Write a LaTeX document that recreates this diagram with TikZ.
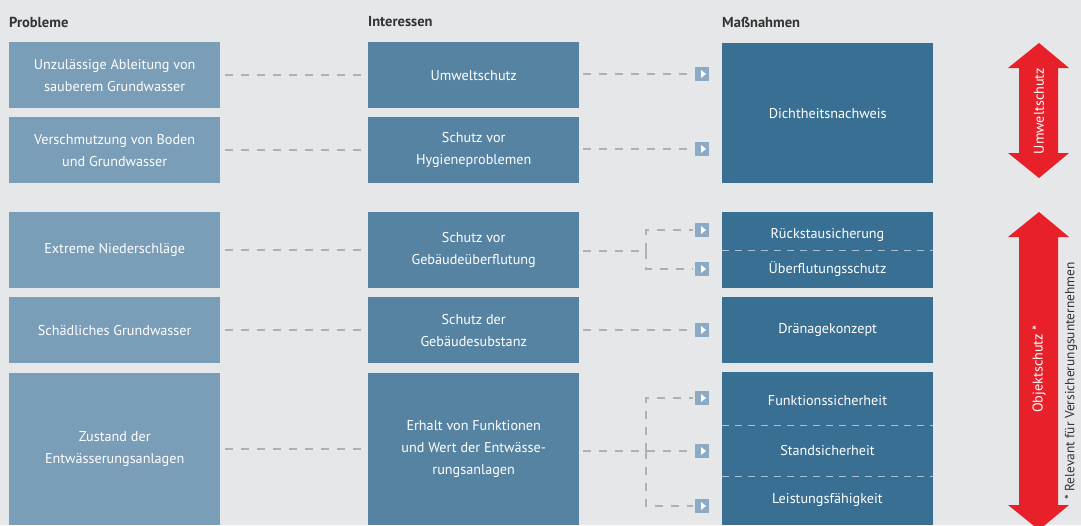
\documentclass[tikz,border=0pt]{standalone}
\usepackage{fontspec}
\setmainfont{PT Sans}
\usetikzlibrary{calc}
\begin{document}
\begin{tikzpicture}[x=1pt,y=-1pt,
  box/.style={anchor=north west, inner sep=0pt, text=white, align=center, font=\fontsize{14.2}{22}\selectfont, minimum width=211pt},
  prob/.style={box, fill=probcol},
  inter/.style={box, fill=intcol},
  meas/.style={box, fill=meascol},
  mtext/.style={text=white, font=\fontsize{14.2}{22}\selectfont},
  head/.style={anchor=west, inner sep=0pt, font=\fontsize{14.5}{16}\bfseries\selectfont, text=headcol},
  conn/.style={draw=dashcol, line width=1.6pt, dash pattern=on 8pt off 8pt},
  sep/.style={draw=sepcol, line width=1pt, dash pattern=on 7pt off 6pt},
  sq/.style={fill=sqcol, minimum size=14pt, inner sep=0pt},
  rtext/.style={rotate=90, font=\fontsize{14.2}{16}\selectfont},
]
\definecolor{bgcol}{HTML}{E6E7E9}
\definecolor{probcol}{HTML}{7A9DB8}
\definecolor{intcol}{HTML}{5783A3}
\definecolor{meascol}{HTML}{386F93}
\definecolor{sqcol}{HTML}{8DAAC4}
\definecolor{dashcol}{HTML}{B0B1B3}
\definecolor{sepcol}{HTML}{A9C0D2}
\definecolor{headcol}{HTML}{333333}
\definecolor{redcol}{HTML}{E8202A}

\fill[bgcol] (0,0) rectangle (1081,525);
\useasboundingbox (0,0) rectangle (1081,525);

% headers
\node[head] (h1) at (9,22) {Probleme};
\node[head] (h2) at (368,22) {Interessen};
\node[head] (h3) at (722,22) {Maßnahmen};

% problems
\node[prob, minimum height=66pt] (p1) at (9,42) {Unzulässige Ableitung von\\sauberem Grundwasser};
\node[prob, minimum height=66pt] (p2) at (9,117) {Verschmutzung von Boden\\und Grundwasser};
\node[prob, minimum height=76pt] (p3) at (9,212) {Extreme Niederschläge};
\node[prob, minimum height=66pt] (p4) at (9,297) {Schädliches Grundwasser};
\node[prob, minimum height=152pt] (p5) at (9,373) {Zustand der\\Entwässerungsanlagen};

% interests
\node[inter, minimum height=66pt] (i1) at (368,42) {Umweltschutz};
\node[inter, minimum height=66pt] (i2) at (368,117) {Schutz vor\\Hygieneproblemen};
\node[inter, minimum height=76pt] (i3) at (368,212) {Schutz vor\\Gebäudeüberflutung};
\node[inter, minimum height=66pt] (i4) at (368,297) {Schutz der\\Gebäudesubstanz};
\node[inter, minimum height=152pt] (i5) at (368,373) {Erhalt von Funktionen\\und Wert der Entwässe-\\rungsanlagen};

% measures
\node[meas, minimum height=140pt] (m1) at (722,43) {Dichtheitsnachweis};
\node[meas, minimum height=76pt] (m3) at (722,212) {};
\node[meas, minimum height=66pt] (m4) at (722,297) {Dränagekonzept};
\node[meas, minimum height=153pt] (m5) at (722,372) {};
\draw[sep] (722,250) -- (933,250);
\draw[sep] (722,425) -- (933,425);
\draw[sep] (722,476) -- (933,476);
\node[mtext] (m3a) at (827.5,235) {Rückstausicherung};
\node[mtext] (m3b) at (827.5,269) {Überflutungsschutz};
\node[mtext] (m5a) at (827.5,401) {Funktionssicherheit};
\node[mtext] (m5b) at (827.5,451) {Standsicherheit};
\node[mtext] (m5c) at (827.5,500) {Leistungsfähigkeit};

% arrow squares
\foreach \n/\y in {s1/74, s2/149, s3a/230, s3b/269, s4/330, s5a/398, s5b/451, s5c/506}{
  \node[sq] (\n) at (702,\y) {};
  \fill[white] ($(\n.center)+(-1,-4)$) -- ($(\n.center)+(4,0)$) -- ($(\n.center)+(-1,4)$) -- cycle;
}

% connectors problems -> interests
\foreach \k in {1,2,3,4,5}{
  \draw[conn, shorten <=5pt, shorten >=5pt] (p\k.east) -- (i\k.west);
}

% connectors interests -> squares
\coordinate (b3) at (646,251);
\coordinate (b5) at (646,451);
\draw[conn, shorten <=4pt, shorten >=2pt] (i1.east |- s1) -- (s1.west);
\draw[conn, shorten <=4pt, shorten >=2pt] (i2.east |- s2) -- (s2.west);
\draw[conn, shorten <=4pt, shorten >=2pt] (i4.east |- s4) -- (s4.west);
\draw[conn, shorten <=4pt] (i3.east |- b3) -- (b3);
\draw[conn, shorten >=2pt] (b3) -- (b3 |- s3a) -- (s3a.west);
\draw[conn, shorten >=2pt] (b3) -- (b3 |- s3b) -- (s3b.west);
\draw[conn, shorten <=4pt, shorten >=2pt] (i5.east |- s5b) -- (s5b.west);
\draw[conn, shorten >=2pt] (b5) -- (b5 |- s5a) -- (s5a.west);
\draw[conn, shorten >=2pt] (b5) -- (b5 |- s5c) -- (s5c.west);

% red arrows
\fill[redcol] (1039,43) -- (1069,68) -- (1058,68) -- (1058,153) -- (1069,153) -- (1039,178) -- (1008,153) -- (1019,153) -- (1019,68) -- (1008,68) -- cycle;
\node[rtext, text=white] (u) at (1039,111) {Umweltschutz};
\fill[redcol] (1039,212) -- (1069,237) -- (1058,237) -- (1058,505) -- (1069,505) -- (1039,530) -- (1008,505) -- (1019,505) -- (1019,237) -- (1008,237) -- cycle;
\node[rtext, text=white] (o) at (1039,369) {Objektschutz *};
\node[rtext, text=headcol, font=\fontsize{13.4}{16}\selectfont] (fn) at (1071,381) {* Relevant für Versicherungsunternehmen};
\end{tikzpicture}
\end{document}
